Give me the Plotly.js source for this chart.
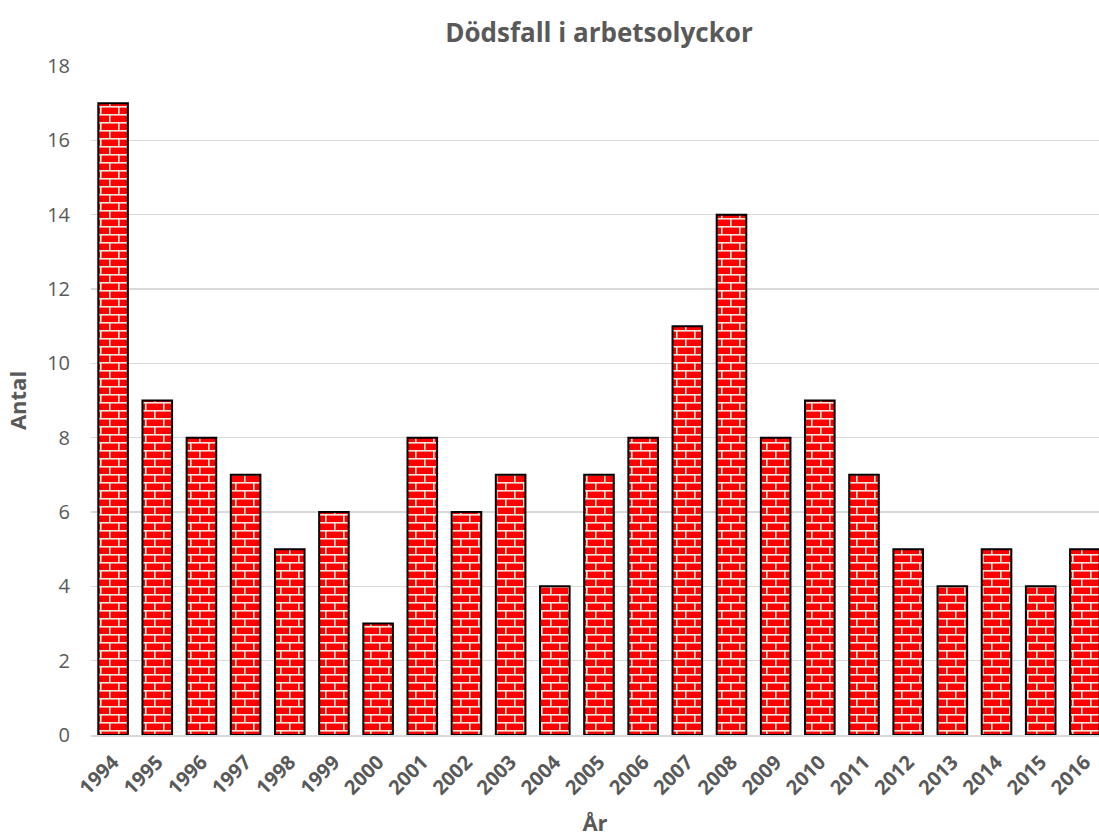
<!DOCTYPE html>
<html>
<head>
<meta charset="utf-8">
<script src="https://cdn.plot.ly/plotly-3.0.1.min.js"></script>
<style>html,body{margin:0;padding:0;background:#fff;}#chart{width:1099px;height:839px;}</style>
</head>
<body>
<div id="chart"></div>
<script>
const years = ["1994","1995","1996","1997","1998","1999","2000","2001","2002","2003","2004","2005","2006","2007","2008","2009","2010","2011","2012","2013","2014","2015","2016"];
const deaths = [17,9,8,7,5,6,3,8,6,7,4,7,8,11,14,8,9,7,5,4,5,4,5];
const yTicks = [0,2,4,6,8,10,12,14,16,18];
const chartTitle = "Dödsfall i arbetsolyckor";
const xTitle = "År";
const yTitle = "Antal";

const fontFam = "Open Sans, Liberation Sans, sans-serif";
const trace = {
  type: "bar",
  x: years,
  y: deaths,
  marker: {
    color: "#ff0000",
    line: {color: "#000000", width: 2},
    pattern: {shape: "+", fgcolor: "#f0e6da", bgcolor: "#ff0000", size: 8, solidity: 0.2, fillmode: "replace"}
  },
  hoverinfo: "x+y"
};
const layout = {
  width: 1099, height: 839,
  margin: {l: 91, r: 0, t: 66, b: 104},
  paper_bgcolor: "#ffffff", plot_bgcolor: "#ffffff",
  bargap: 0.33,
  showlegend: false,
  title: {text: "<b>" + chartTitle + "</b>", x: 0.545, xanchor: "center", y: 0.961, yanchor: "middle",
          font: {family: fontFam, size: 26, color: "#595959"}},
  xaxis: {
    type: "category",
    range: [-0.5, 22.32],
    tickangle: -45,
    tickfont: {family: fontFam, size: 20, color: "#595959", weight: "bold"},
    showgrid: false,
    showline: true, linecolor: "#d9d9d9", linewidth: 1.5,
    ticks: "",
    ticklabelstandoff: 6,
    title: {text: "<b>" + xTitle + "</b>", font: {family: fontFam, size: 22, color: "#595959"}, standoff: 16}
  },
  yaxis: {
    range: [0, 18],
    tickvals: yTicks,
    ticktext: yTicks.map(String),
    tickfont: {family: fontFam, size: 20, color: "#595959"},
    showgrid: true, gridcolor: "#d9d9d9", gridwidth: 1.5,
    zeroline: false,
    showline: false,
    ticks: "",
    ticklabelstandoff: 20,
    title: {text: "<b>" + yTitle + "</b>", font: {family: fontFam, size: 22, color: "#595959"}, standoff: 14}
  }
};
Plotly.newPlot("chart", [trace], layout, {displayModeBar: false, staticPlot: true}).then(function(gd){
  // replace the generic "+" fill pattern with a brick layout
  const NS = "http://www.w3.org/2000/svg";
  const pats = gd.querySelectorAll("pattern");
  pats.forEach(function(p){
    const w = 18, h = 16, m = 1.6, mort = "#f0e6da";
    p.setAttribute("width", w); p.setAttribute("height", h);
    p.setAttribute("viewBox", "0 0 " + w + " " + h);
    while (p.firstChild) p.removeChild(p.firstChild);
    const add = function(x, y, ww, hh, c){
      const r = document.createElementNS(NS, "rect");
      r.setAttribute("x", x); r.setAttribute("y", y);
      r.setAttribute("width", ww); r.setAttribute("height", hh);
      r.setAttribute("fill", c); p.appendChild(r);
    };
    add(0, 0, w, h, "#ff0000");
    add(0, 0, w, m, mort);
    add(0, h/2, w, m, mort);
    add(0, 0, m, h/2, mort);
    add(w/2, h/2, m, h/2, mort);
  });
});
</script>
</body>
</html>
